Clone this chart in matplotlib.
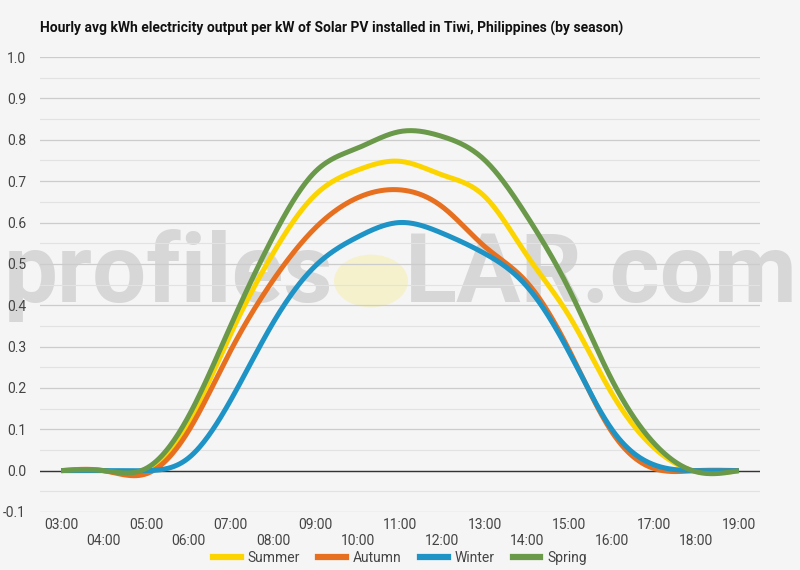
import numpy as np
import matplotlib
matplotlib.use("Agg")
import matplotlib.pyplot as plt
from matplotlib.patches import Circle
from matplotlib.lines import Line2D

plt.rcParams['font.family'] = ['Roboto', 'DejaVu Sans']

# data (hourly averages, kWh per kW)
hours = list(range(3, 20))
hour_labels = [f"{h:02d}:00" for h in hours]
summer = [0.0, 0.0, 0.0, 0.115, 0.33, 0.525, 0.667, 0.727, 0.748, 0.715, 0.663, 0.52, 0.373, 0.187, 0.055, -0.002, 0.0]
autumn = [0.0, 0.0, -0.008, 0.095, 0.29, 0.46, 0.587, 0.66, 0.679, 0.638, 0.542, 0.455, 0.29, 0.094, 0.005, 0.0, 0.0]
winter = [0.0, 0.0, 0.0, 0.03, 0.17, 0.357, 0.495, 0.565, 0.60, 0.574, 0.525, 0.445, 0.285, 0.10, 0.014, 0.0, 0.0]
spring = [0.0, 0.0, 0.005, 0.13, 0.35, 0.565, 0.723, 0.78, 0.82, 0.808, 0.751, 0.615, 0.437, 0.22, 0.066, -0.003, 0.0]

series = [
    ("Summer", summer, "#fcd500"),
    ("Autumn", autumn, "#e6701f"),
    ("Winter", winter, "#1e93c6"),
    ("Spring", spring, "#6a994a"),
]

BG = "#f5f5f5"


def smooth(x, y, n=30):
    # natural cubic spline through the points, only for drawing the curve
    x = np.asarray(x, float)
    y = np.asarray(y, float)
    m = len(x)
    h = np.diff(x)
    A = np.zeros((m, m))
    b = np.zeros(m)
    A[0, 0] = A[-1, -1] = 1
    for i in range(1, m - 1):
        A[i, i - 1] = h[i - 1]
        A[i, i] = 2 * (h[i - 1] + h[i])
        A[i, i + 1] = h[i]
        b[i] = 6 * ((y[i + 1] - y[i]) / h[i] - (y[i] - y[i - 1]) / h[i - 1])
    M = np.linalg.solve(A, b)
    xs, ys = [], []
    for i in range(m - 1):
        t = np.linspace(x[i], x[i + 1], n, endpoint=False)
        a = x[i + 1] - t
        c = t - x[i]
        s = (M[i] * a ** 3 + M[i + 1] * c ** 3) / (6 * h[i]) \
            + (y[i] / h[i] - M[i] * h[i] / 6) * a + (y[i + 1] / h[i] - M[i + 1] * h[i] / 6) * c
        xs.extend(t)
        ys.extend(s)
    xs.append(x[-1])
    ys.append(y[-1])
    return np.array(xs), np.array(ys)


fig = plt.figure(figsize=(8, 5.7), dpi=100, facecolor=BG)
ax = fig.add_axes([0.05, 0.1018, 0.9, 0.798])
ax.set_facecolor(BG)

ax.set_xlim(2.5, 19.5)
ax.set_ylim(-0.1, 1.0)

# watermark (under the grid)
wm = dict(fontsize=69, fontweight="bold", color="#d2d2d2", alpha=0.85, va="baseline",
          zorder=0.5, transform=fig.transFigure, clip_on=False)
ax.text(333 / 800, 1 - 302 / 570, "profiles", ha="right", **wm)
ax.text(405 / 800, 1 - 302 / 570, "LAR.com", ha="left", **wm)
ax.add_patch(Circle((371 / 800, 1 - 281 / 570), 37 / 800, transform=fig.transFigure,
                    facecolor="#f6f0c4", alpha=0.8, edgecolor="none", zorder=0.5, clip_on=False))

# grid
for v in np.arange(-0.1, 1.001, 0.1):
    ax.axhline(v, color="#cccccc", lw=0.9, zorder=1)
for v in np.arange(-0.05, 1.0, 0.1):
    ax.axhline(v, color="#e2e2e2", lw=0.8, zorder=1)
ax.axhline(0, color="#333333", lw=1.0, zorder=2)

for s in ax.spines.values():
    s.set_visible(False)

for name, vals, col in series:
    sx, sy = smooth(hours, vals)
    ax.plot(sx, sy, color=col, lw=3.6, solid_capstyle="butt", zorder=3, label=name)

ax.set_yticks(np.arange(-0.1, 1.001, 0.1))
ax.set_yticklabels([f"{v:.1f}" for v in np.arange(-0.1, 1.001, 0.1)])
ax.tick_params(axis="y", length=0, pad=10, labelsize=10, labelcolor="#444444")

ax.set_xticks(hours)
ax.set_xticklabels([lab if i % 2 == 0 else "\n" + lab for i, lab in enumerate(hour_labels)],
                   linespacing=1.25)
ax.tick_params(axis="x", length=0, pad=4, labelsize=10, labelcolor="#444444")

fig.text(40 / 800, 1 - 28 / 570, "Hourly avg kWh electricity output per kW of Solar PV installed in Tiwi, Philippines (by season)",
         fontsize=10, fontweight="bold", color="#111111", va="center", ha="left")

handles = [Line2D([0], [0], color=c, lw=4.5) for _, _, c in series]
fig.legend(handles, [n for n, _, _ in series], loc="center", bbox_to_anchor=(0.5, 1 - 558 / 570),
           ncol=4, frameon=False, fontsize=10, handlelength=2.0, handletextpad=0.5,
           columnspacing=1.3, labelcolor="#444444")

fig.savefig("out.png", dpi=100, facecolor=BG)
